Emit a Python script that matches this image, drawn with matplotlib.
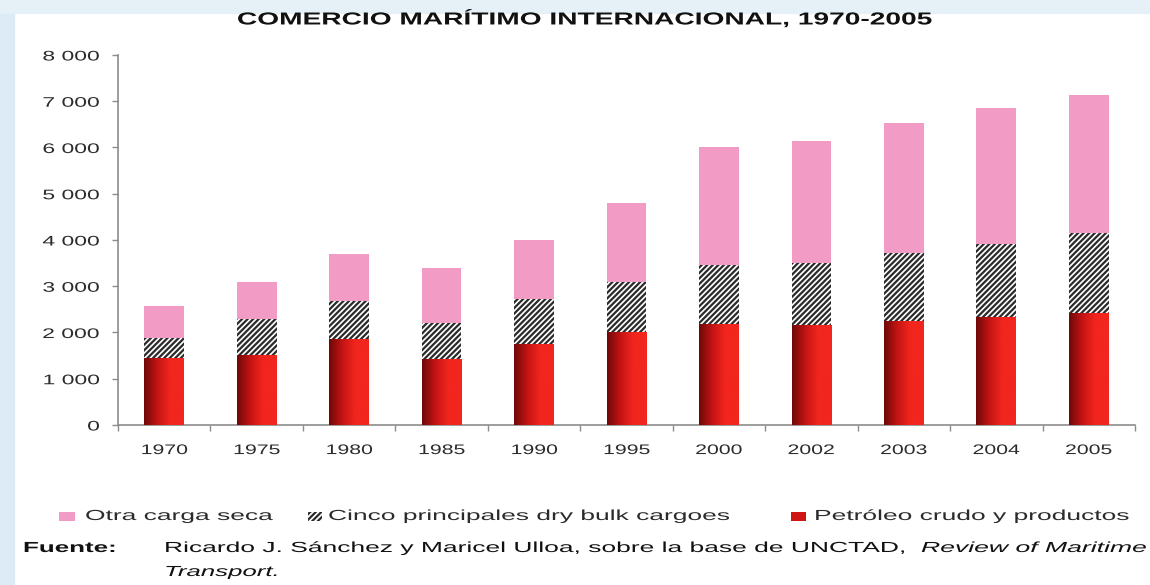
import numpy as np
import matplotlib
matplotlib.use("Agg")
import matplotlib.pyplot as plt
from matplotlib.patches import Rectangle
from matplotlib.patheffects import AbstractPathEffect
from matplotlib.transforms import Affine2D
from matplotlib.colors import LinearSegmentedColormap

years = ["1970", "1975", "1980", "1985", "1990", "1995", "2000", "2002", "2003", "2004", "2005"]
petroleo = [1450, 1520, 1870, 1420, 1760, 2000, 2180, 2170, 2250, 2330, 2420]
cinco = [430, 780, 810, 780, 970, 1100, 1280, 1330, 1470, 1580, 1730]
otra = [690, 800, 1020, 1200, 1270, 1700, 2540, 2630, 2810, 2940, 2980]
legend_labels = ["Otra carga seca", "Cinco principales dry bulk cargoes", "Petróleo crudo y productos"]

pink = "#F29BC4"
red_dark = "#6E0808"
red_bright = "#F2261E"
axis_gray = "#8C8C8C"
text_col = "#2B2B2B"
FONT = "Liberation Sans"
W, H = 1150, 585


class StretchX(AbstractPathEffect):
    """Draw text horizontally widened about its anchor point."""
    def __init__(self, text, sx):
        super().__init__()
        self.text = text
        self.sx = sx

    def draw_path(self, renderer, gc, tpath, affine, rgbFace=None):
        t = self.text
        ox = t.get_transform().transform(t.get_unitless_position())[0]
        st = Affine2D().translate(-ox, 0).scale(self.sx, 1).translate(ox, 0)
        renderer.draw_path(gc, tpath, affine + st, rgbFace)


def stretch(t, sx=1.65):
    t.set_path_effects([StretchX(t, sx)])
    return t


plt.rcParams['hatch.linewidth'] = 1.6
plt.rcParams['hatch.color'] = '#2A2A2A'

fig = plt.figure(figsize=(11.5, 5.85), dpi=100, facecolor="white")
fig.patches.append(Rectangle((0, 0), 0.012, 1, transform=fig.transFigure, color="#DCEBF5", zorder=0))
fig.patches.append(Rectangle((0, 0.978), 1, 0.022, transform=fig.transFigure, color="#E6F0F7", zorder=0))

ax = fig.add_axes([0.1026, 0.2735, 0.8844, 0.6325])
x = np.arange(len(years))
w = 0.43
p = np.array(petroleo)
c = np.array(cinco)
o = np.array(otra)

bars_red = ax.bar(x, p, width=w, color=red_bright, linewidth=0, zorder=2)
grad = np.linspace(0, 1, 256).reshape(1, -1)
cmap = LinearSegmentedColormap.from_list("rg", [red_dark, "#C41414", red_bright, red_bright])
for b in bars_red:
    x0, y0 = b.get_x(), b.get_y()
    im = ax.imshow(grad, extent=[x0, x0 + b.get_width(), y0, y0 + b.get_height()],
                   aspect="auto", cmap=cmap, zorder=3, interpolation="bicubic")
    im.set_clip_path(b)
ax.bar(x, c, width=w, bottom=p, facecolor="white", edgecolor="#2A2A2A",
       hatch="//////", linewidth=0, zorder=2)
ax.bar(x, o, width=w, bottom=p + c, color=pink, linewidth=0, zorder=2)

ax.set_xlim(-0.5, len(years) - 0.5)
ax.set_ylim(0, 8000)
ax.set_yticks(np.arange(0, 8001, 1000))
ax.set_yticklabels(["0" if v == 0 else f"{v//1000} 000" for v in range(0, 8001, 1000)])
ax.set_xticks(x)
ax.set_xticklabels(years)
ax.set_xticks(np.arange(-0.5, len(years), 1), minor=True)
ax.tick_params(axis="x", which="major", length=0, pad=13, labelsize=10, labelcolor=text_col)
ax.tick_params(axis="x", which="minor", length=4, color=axis_gray, width=1)
ax.tick_params(axis="y", length=4.5, color=axis_gray, width=1, pad=8.5, labelsize=10, labelcolor=text_col)
for s in ["top", "right"]:
    ax.spines[s].set_visible(False)
for s in ["left", "bottom"]:
    ax.spines[s].set_color(axis_gray)
    ax.spines[s].set_linewidth(1.2)
for lab in ax.get_xticklabels():
    lab.set_family(FONT)
    stretch(lab, 1.53)
for lab in ax.get_yticklabels():
    lab.set_family(FONT)
    stretch(lab, 1.65)

stretch(fig.text(0.508, 0.968, "COMERCIO MARÍTIMO INTERNACIONAL, 1970-2005", ha="center", va="center",
                 fontsize=12.5, fontweight="bold", family=FONT, color="#111111"), 1.62)

# legend (manual, so the widened text lines up)
ly = 1 - 516 / H
rh = 9 / H
fig.patches.append(Rectangle((59 / W, ly - rh / 2), 16 / W, rh, transform=fig.transFigure,
                             facecolor=pink, edgecolor="none"))
fig.patches.append(Rectangle((308 / W, ly - rh / 2), 14 / W, rh, transform=fig.transFigure,
                             facecolor="white", edgecolor="#2A2A2A", hatch="//////", linewidth=0))
fig.patches.append(Rectangle((791 / W, ly - rh / 2), 15 / W, rh, transform=fig.transFigure,
                             facecolor="#D01515", edgecolor="none"))
for xs, lab in zip([85, 328, 814], legend_labels):
    stretch(fig.text(xs / W, ly, lab, ha="left", va="center", fontsize=10.5, family=FONT,
                     color=text_col), 1.81)

fy = 1 - 548 / H
stretch(fig.text(23 / W, fy, "Fuente:", fontsize=10.5, fontweight="bold", family=FONT,
                 va="center", color="#111111"), 1.78)
t_main = fig.text(164 / W, fy, "Ricardo J. Sánchez y Maricel Ulloa, sobre la base de UNCTAD,",
                  fontsize=10.5, family=FONT, va="center", color="#111111")
t_rev = fig.text(921 / W, fy, "Review of Maritime", fontsize=10.5, family=FONT, style="italic",
                 va="center", color="#111111")
stretch(fig.text(164 / W, 1 - 572 / H, "Transport.", fontsize=10.5, family=FONT, style="italic",
                 va="center", color="#111111"), 1.77)

# widen the source line so it spans the same width as the original
fig.canvas.draw()
for t, target in [(t_main, 912 - 164), (t_rev, 1148 - 921)]:
    stretch(t, target / t.get_window_extent().width)

fig.savefig("out.png", dpi=100, facecolor="white")
